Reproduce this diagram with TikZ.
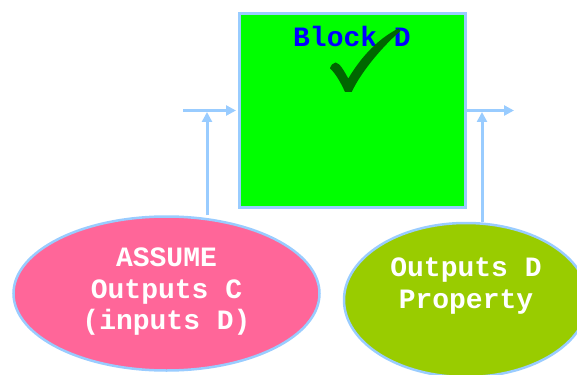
\documentclass[tikz,border=0pt]{standalone}
\usepackage{fontspec}
\setmonofont{Liberation Mono}
\usepackage{tikz}
\usetikzlibrary{arrows.meta,positioning,calc,shapes.geometric,backgrounds}
\usepackage{xcolor}
\definecolor{edgeblue}{HTML}{99CCFF}
\definecolor{blockgreen}{HTML}{00FF00}
\definecolor{assumepink}{HTML}{FF6699}
\definecolor{propgreen}{HTML}{99CC00}
\definecolor{checkgreen}{HTML}{006600}
\definecolor{textblue}{HTML}{0000FF}
\tikzset{
  wire/.style={draw=edgeblue, line width=3pt, -{Triangle[length=10pt,width=10pt]}},
  blob/.style={ellipse, draw=edgeblue, line width=2.5pt, inner sep=0pt},
  lbl/.style={font=\ttfamily\bfseries\fontsize{28}{31.5}\selectfont, align=center},
}

\begin{document}
\begin{tikzpicture}[x=1pt,y=-1pt]
  \useasboundingbox (0,0) rectangle (577,374);
  \clip (0,0) rectangle (577,374);
  \node[draw=edgeblue, fill=blockgreen, line width=3pt, minimum width=226pt,
        minimum height=193pt, inner sep=0pt] (blk) at (352,110.5) {};
  \node[blob, fill=assumepink, minimum width=306pt, minimum height=154pt] (asm) at (166.5,293.5) {};
  \node[blob, fill=propgreen, minimum width=244pt, minimum height=154pt] (prop) at (466,300) {};
  \node[lbl, text=textblue] (blkTxt) at (352,36) {Block D};
  \node[lbl, text=white] (asmTxt) at (166.5,292) {ASSUME\\Outputs C\\(inputs D)};
  \node[lbl, text=white] (propTxt) at (466,286) {Outputs D\\Property};
  % check mark
  \fill[checkgreen] (330,68.3) .. controls (331,65) and (333,63) .. (335.5,62.5)
    .. controls (340,63) and (344,71) .. (348.3,78.5)
    .. controls (358,62) and (375,40) .. (398.5,28.5) -- (400.5,31)
    .. controls (385,44) and (362,70) .. (351.7,92) -- (345,92)
    .. controls (341,83) and (336,74) .. (330,68.3) -- cycle;
  \coordinate (inL) at (183,110.5);
  \coordinate (inJ) at (207,110.5);
  \coordinate (outJ) at (482,110.5);
  \coordinate (outR) at (514,110.5);
  \begin{scope}[on background layer]
    \draw[wire, shorten >=1.5pt] (inL) -- (blk.west);
    \draw[wire, shorten >=1.5pt] (inJ |- asm.north) -- (inJ);
    \draw[wire] (blk.east) -- (outR);
    \draw[wire, shorten >=1.5pt] (outJ |- prop.north) -- (outJ);
  \end{scope}
\end{tikzpicture}
\end{document}
